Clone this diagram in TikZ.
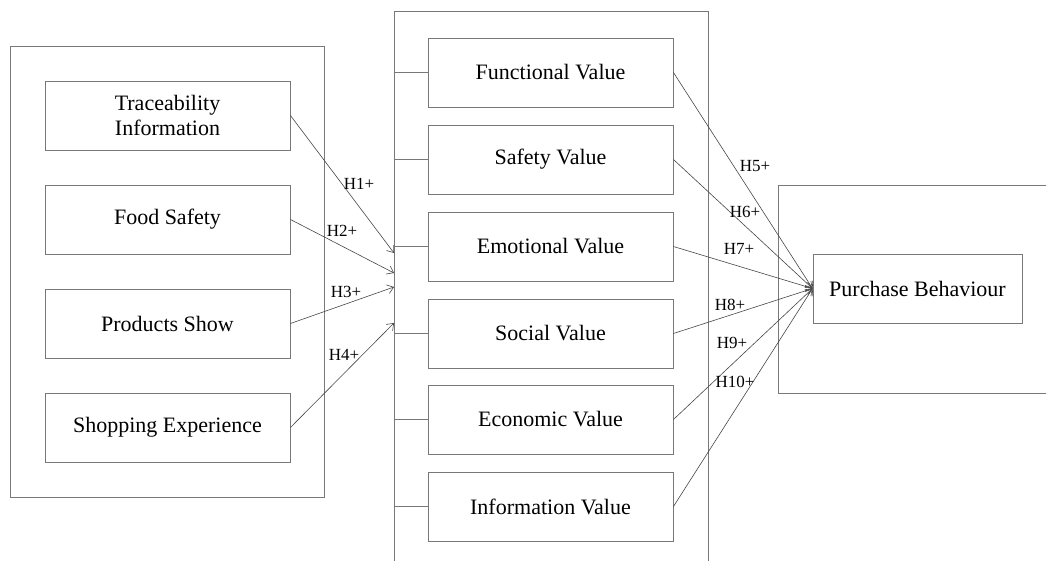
\documentclass[tikz,border=0pt]{standalone}
\usepackage{fontspec}
\setmainfont{Liberation Serif}
\usetikzlibrary{arrows.meta}
\definecolor{boxgray}{RGB}{120,120,120}
\definecolor{linegray}{RGB}{70,70,70}
\tikzset{
  factorbox/.style={rectangle, draw=boxgray, fill=white, line width=0.9pt,
                    minimum width=245pt, minimum height=69pt, inner sep=0pt,
                    align=center, font=\fontsize{22}{25}\selectfont},
  groupline/.style={draw=boxgray, line width=0.9pt},
  hyparrow/.style={draw=linegray, line width=0.6pt,
                   -{Straight Barb[length=6pt, width=9pt, line width=0.6pt]}},
  hyplabel/.style={font=\fontsize{17}{19}\selectfont, inner sep=0pt}
}
\begin{document}
\begin{tikzpicture}[x=1pt, y=-1pt]
  \useasboundingbox (0,0) rectangle (1046,561);

  % group frames
  \draw[groupline] (10,46) rectangle (324,497);
  \coordinate (midtl) at (394,11);
  \draw[groupline] (394,561) -- (midtl) -- (708,11) -- (708,561);
  \draw[groupline] (1046,185) -- (778,185) -- (778,393) -- (1046,393);

  % antecedents
  \node[factorbox] (trace) at (167.5,115.5) {Traceability\\Information};
  \node[factorbox] (food)  at (167.5,219.5) {Food Safety};
  \node[factorbox] (show)  at (167.5,323.5) {Products Show};
  \node[factorbox] (shop)  at (167.5,427.5) {Shopping Experience};

  % perceived values
  \node[factorbox] (func) at (550.5,72.5)  {Functional Value};
  \node[factorbox] (safe) at (550.5,159.5) {Safety Value};
  \node[factorbox] (emot) at (550.5,246.5) {Emotional Value};
  \node[factorbox] (soci) at (550.5,333.5) {Social Value};
  \node[factorbox] (econ) at (550.5,419.5) {Economic Value};
  \node[factorbox] (info) at (550.5,506.5) {Information Value};

  \node[factorbox, minimum width=209pt] (buy) at (917.5,288.5) {Purchase Behaviour};

  % ticks from frame to value boxes
  \foreach \v in {func,safe,emot,soci,econ,info} {
    \draw[groupline] (\v.west -| midtl) -- (\v.west);
  }

  % arrow ends on the frame
  \coordinate (in1) at (394,253);
  \coordinate (in2) at (394,273);
  \coordinate (in3) at (394,287);
  \coordinate (in4) at (394,323);

  \draw[hyparrow] (trace.east) -- (in1);
  \draw[hyparrow] (food.east)  -- (in2);
  \draw[hyparrow] (show.east)  -- (in3);
  \draw[hyparrow] (shop.east)  -- (in4);

  \node[hyplabel] (h1) at (359,184) {H1+};
  \node[hyplabel] (h2) at (342,231) {H2+};
  \node[hyplabel] (h3) at (346,292) {H3+};
  \node[hyplabel] (h4) at (344,355) {H4+};

  \foreach \v in {func,safe,emot,soci,econ,info} {
    \draw[hyparrow] (\v.east) -- (buy.west);
  }

  \node[hyplabel] (h5)  at (755,166) {H5+};
  \node[hyplabel] (h6)  at (745,212) {H6+};
  \node[hyplabel] (h7)  at (739,249) {H7+};
  \node[hyplabel] (h8)  at (730,305) {H8+};
  \node[hyplabel] (h9)  at (732,343) {H9+};
  \node[hyplabel] (h10) at (735,382) {H10+};
\end{tikzpicture}
\end{document}
